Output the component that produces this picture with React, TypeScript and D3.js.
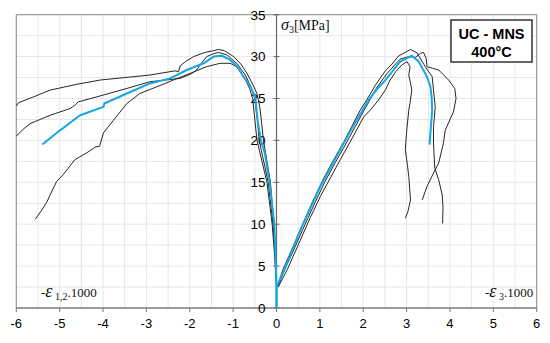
import React from 'react'
import * as d3 from 'd3'

// tick labels
const xTicks = [-6, -5, -4, -3, -2, -1, 0, 1, 2, 3, 4, 5, 6]
const yTicks = [0, 5, 10, 15, 20, 25, 30, 35]

// lateral strain curves (-eps1,2 . 1000, sigma3)
const latA: [number, number][] = [
  [-6.0, 24.1], [-5.95, 24.5], [-5.6, 25.2], [-5.22, 26.0], [-4.6, 26.7], [-4.07, 27.2], [-3.5, 27.5],
  [-2.92, 27.8], [-2.34, 28.3], [-2.26, 28.2], [-2.22, 28.9], [-2.1, 29.4], [-1.91, 30.0], [-1.65, 30.5],
  [-1.45, 30.7], [-1.34, 30.85], [-1.2, 30.7], [-0.99, 30.0], [-0.82, 29.1], [-0.68, 28.0], [-0.55, 26.7],
  [-0.45, 25.6], [-0.38, 23.8], [-0.3, 20.0], [-0.14, 15.0], [-0.06, 10.0], [-0.02, 6.0], [0, 2.6],
]
const latB: [number, number][] = [
  [-6.0, 20.5], [-5.85, 21.3], [-5.68, 22.0], [-5.22, 23.0], [-4.76, 23.8], [-4.65, 24.2], [-4.57, 24.6],
  [-4.14, 25.2], [-3.45, 26.2], [-2.92, 27.0], [-2.22, 27.4], [-1.95, 28.0], [-1.84, 28.4], [-1.72, 29.3],
  [-1.61, 30.0], [-1.45, 30.35], [-1.34, 30.5], [-1.14, 30.2], [-0.9, 29.1], [-0.72, 27.8], [-0.58, 26.3],
  [-0.5, 25.0], [-0.44, 22.5], [-0.4, 20.0], [-0.19, 15.0], [-0.08, 10.0], [-0.03, 6.0], [0, 2.6],
]
const latC: [number, number][] = [
  [-5.56, 10.6], [-5.41, 11.7], [-5.3, 12.6], [-5.22, 13.5], [-5.07, 15.1], [-4.92, 15.9], [-4.65, 17.7],
  [-4.38, 18.5], [-4.18, 19.2], [-4.08, 19.3], [-3.99, 20.9], [-3.76, 22.4], [-3.45, 24.4], [-3.15, 25.6],
  [-2.76, 26.4], [-2.38, 27.2], [-1.99, 28.0], [-1.61, 28.8], [-1.3, 29.2], [-1.07, 29.2], [-0.92, 28.8],
  [-0.75, 27.6], [-0.62, 26.2], [-0.55, 25.0], [-0.45, 20.0], [-0.22, 15.0], [-0.1, 10.0], [-0.04, 6.0], [0, 2.6],
]
const latMean: [number, number][] = [
  [0, 0], [0, 2.5], [-0.02, 6.0], [-0.05, 10.0], [-0.16, 15.0], [-0.27, 18.5], [-0.36, 20.0], [-0.44, 22.5],
  [-0.49, 25.2], [-0.62, 26.6], [-0.76, 27.6], [-0.9, 28.8], [-1.07, 29.6], [-1.26, 30.1], [-1.45, 30.0],
  [-1.68, 29.2], [-2.07, 28.4], [-2.45, 27.4], [-2.92, 26.8], [-3.45, 25.6], [-3.97, 24.4], [-3.99, 24.0],
  [-4.53, 23.0], [-4.99, 21.2], [-5.4, 19.5],
]

// axial strain curves (-eps3 . 1000, sigma3)
const axA: [number, number][] = [
  [0.02, 2.6], [0.15, 4.6], [0.32, 6.6], [0.62, 10.2], [0.85, 12.9], [1.08, 15.4], [1.32, 17.7], [1.55, 19.8],
  [1.93, 23.6], [2.16, 25.5], [2.28, 26.6], [2.51, 28.3], [2.66, 29.1], [2.82, 30.1], [2.97, 30.5], [3.09, 30.85],
  [3.24, 30.45], [3.43, 28.8], [3.59, 27.6], [3.62, 26.0], [3.66, 24.0], [3.62, 21.5], [3.62, 19.7], [3.65, 16.7],
  [3.74, 15.3], [3.82, 13.5], [3.84, 12.0], [3.83, 10.1],
]
const axB: [number, number][] = [
  [0.03, 2.5], [0.18, 4.5], [0.36, 6.5], [0.66, 10.0], [0.9, 12.7], [1.12, 15.1], [1.36, 17.4], [1.6, 19.6],
  [2.0, 23.4], [2.3, 26.2], [2.55, 28.0], [2.85, 29.7], [3.05, 30.0], [3.2, 29.9], [3.32, 30.4], [3.39, 30.5],
  [3.45, 29.8], [3.47, 28.8], [3.6, 28.6], [3.74, 28.4], [3.97, 27.2], [4.11, 26.2], [4.14, 25.0], [4.08, 23.4],
  [3.89, 21.2], [3.85, 19.7], [3.74, 17.3], [3.62, 16.1], [3.47, 14.5], [3.36, 12.9],
]
const axC: [number, number][] = [
  [0.04, 2.5], [0.25, 4.6], [0.55, 8.1], [0.78, 10.8], [1.01, 13.3], [1.25, 15.6], [1.47, 17.7], [1.75, 20.3],
  [2.01, 22.8], [2.16, 23.6], [2.35, 24.8], [2.51, 26.0], [2.62, 27.2], [2.75, 28.2], [2.89, 29.0], [3.01, 29.4],
  [3.08, 28.8], [3.05, 27.8], [3.1, 26.6], [3.12, 26.0], [3.08, 24.5], [3.05, 23.6], [3.0, 21.0], [2.97, 18.9],
  [3.02, 17.0], [3.05, 15.7], [3.09, 12.9], [3.03, 11.5], [2.97, 10.7],
]
const axMean: [number, number][] = [
  [0, 0], [0, 2.5], [0.2, 4.8], [0.55, 9.3], [1.01, 14.5], [1.47, 18.9], [1.8, 22.0], [2.12, 24.8], [2.3, 26.0],
  [2.51, 27.2], [2.65, 28.1], [2.85, 29.4], [3.12, 30.1], [3.28, 29.4], [3.47, 27.6], [3.55, 26.4], [3.58, 25.0],
  [3.59, 23.6], [3.56, 21.6], [3.53, 19.5],
]

const blackCurves = [latA, latB, latC, axA, axB, axC]
const meanCurves = [latMean, axMean]

const W = 550
const H = 343

export default function App() {
  const x = d3.scaleLinear().domain([-6, 6]).range([16.3, 536.7])
  const y = d3.scaleLinear().domain([0, 35]).range([308, 14.7])
  const line = d3.line<[number, number]>().x(d => x(d[0])).y(d => y(d[1]))

  const xGrid = d3.range(-6, 6.01, 0.5)
  const yGrid = d3.range(0, 35.01, 2.5)
  const x0 = x(0)
  const serif = "'Liberation Serif', 'DejaVu Serif', serif"

  return (
    <svg width={W} height={H} style={{ position: 'absolute', left: 0, top: 0, background: '#fff' }}
      fontFamily="Arial, 'Liberation Sans', sans-serif">
      {/* grid */}
      <g stroke="#e6e6e6" strokeWidth={1}>
        {xGrid.map(v => <line key={'gx' + v} x1={x(v)} x2={x(v)} y1={y(0)} y2={y(35)} />)}
        {yGrid.map(v => <line key={'gy' + v} x1={x(-6)} x2={x(6)} y1={y(v)} y2={y(v)} />)}
      </g>
      <rect x={x(-6)} y={y(35)} width={x(6) - x(-6)} height={y(0) - y(35)} fill="none" stroke="#8c8c8c" strokeWidth={1} />

      {/* x axis */}
      <line x1={x(-6)} x2={x(6)} y1={y(0)} y2={y(0)} stroke="#777" strokeWidth={1.2} />
      {xTicks.map(v => (
        <g key={'xt' + v}>
          <line x1={x(v)} x2={x(v)} y1={y(0)} y2={y(0) + 4} stroke="#777" />
          <text x={x(v)} y={328} textAnchor="middle" fontSize={13} fill="#000">{v}</text>
        </g>
      ))}

      {/* y axis in the middle */}
      <line x1={x0} x2={x0} y1={y(0)} y2={y(35)} stroke="#666" strokeWidth={1.2} />
      {yTicks.map(v => (
        <g key={'yt' + v}>
          <line x1={x0 - 3} x2={x0 + 3} y1={y(v)} y2={y(v)} stroke="#666" />
          <text x={265.5} y={y(v)} dy="0.36em" textAnchor="end" fontSize={13.5} fill="#000">{v}</text>
        </g>
      ))}

      {/* curves */}
      {blackCurves.map((c, i) => (
        <path key={'b' + i} d={line(c) || ''} fill="none" stroke="#262626" strokeWidth={1} strokeLinejoin="round" />
      ))}
      {meanCurves.map((c, i) => (
        <path key={'m' + i} d={line(c) || ''} fill="none" stroke="#17a6e4" strokeWidth={2} strokeLinejoin="round" />
      ))}

      {/* labels */}
      <text x={281} y={30} fontFamily={serif} fontSize={14} fill="#111">
        <tspan fontStyle="italic" fontSize={16}>σ</tspan>
        <tspan fontSize={10} dy={3}>3</tspan>
        <tspan dy={-3}>[MPa]</tspan>
      </text>
      <text x={41} y={297} fontFamily={serif} fontSize={13} fill="#111">
        <tspan>-</tspan>
        <tspan fontSize={18} fontStyle="italic">ε</tspan>
        <tspan fontSize={10} dy={3}> 1,2</tspan>
        <tspan dy={-3}>.1000</tspan>
      </text>
      <text x={485} y={297} fontFamily={serif} fontSize={13} fill="#111">
        <tspan>-</tspan>
        <tspan fontSize={18} fontStyle="italic">ε</tspan>
        <tspan fontSize={10} dy={3}> 3</tspan>
        <tspan dy={-3}>.1000</tspan>
      </text>

      {/* title box */}
      <rect x={451} y={20} width={81} height={42} fill="#fff" stroke="#333" strokeWidth={1.5} />
      <text x={491.5} y={38.5} textAnchor="middle" fontSize={14.5} fontWeight="bold" fill="#000">UC - MNS</text>
      <text x={491.5} y={57} textAnchor="middle" fontSize={14.5} fontWeight="bold" fill="#000">400°C</text>
    </svg>
  )
}
